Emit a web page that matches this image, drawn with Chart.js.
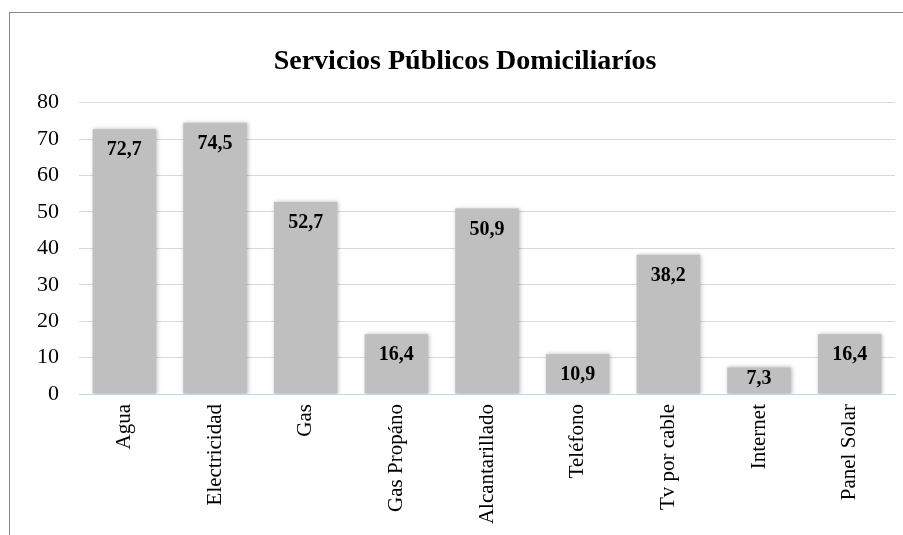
<!DOCTYPE html>
<html>
<head>
<meta charset="utf-8">
<script src="https://cdn.jsdelivr.net/npm/chart.js@4"></script>
<style>
  html, body { margin: 0; padding: 0; background: #fff; overflow: hidden; }
  #wrap { position: relative; width: 903px; height: 535px; }
  #marco { position: absolute; left: 9px; top: 12px; width: 1000px; height: 1000px; border: 1px solid #8a8a8a; box-sizing: border-box; }
  canvas { position: absolute; left: 0; top: 0; }
</style>
</head>
<body>
<div id="wrap">
  <div id="marco"></div>
  <canvas id="grafico" width="903" height="535"></canvas>
</div>
<script>
const categorias = ['Agua', 'Electricidad', 'Gas', 'Gas Propáno', 'Alcantarillado', 'Teléfono', 'Tv por cable', 'Internet', 'Panel Solar']
const valores    = [72.7, 74.5, 52.7, 16.4, 50.9, 10.9, 38.2, 7.3, 16.4]
const titulo     = 'Servicios Públicos Domiciliaríos'

const FUENTE = "'Liberation Serif', 'Times New Roman', serif"

// etiquetas de valor dentro de la barra, arriba (sin pasar del eje)
const etiquetas = {
  id: 'etiquetas',
  afterDatasetsDraw(chart) {
    const ctx = chart.ctx
    const meta = chart.getDatasetMeta(0)
    ctx.save()
    ctx.font = `bold 20px ${FUENTE}`
    ctx.fillStyle = '#000'
    ctx.textAlign = 'center'
    ctx.textBaseline = 'middle'
    meta.data.forEach((bar, i) => {
      const txt = valores[i].toFixed(1).replace('.', ',')
      const y = Math.min(bar.y + 21, bar.base - 15)
      ctx.fillText(txt, bar.x, y)
    })
    ctx.restore()
  }
}

// sombra suave de las barras
const sombra = {
  id: 'sombra',
  beforeDatasetsDraw(chart) {
    const ctx = chart.ctx
    ctx.save()
    ctx.shadowColor = 'rgba(0,0,0,0.28)'
    ctx.shadowBlur = 4
    ctx.shadowOffsetX = 1
    ctx.shadowOffsetY = 0
  },
  afterDatasetsDraw(chart) {
    chart.ctx.restore()
  }
}

new Chart(document.getElementById('grafico'), {
  type: 'bar',
  data: {
    labels: categorias,
    datasets: [{
      data: valores,
      backgroundColor: '#bfbfbf',
      borderWidth: 0,
      categoryPercentage: 0.7,
      barPercentage: 1,
    }],
  },
  options: {
    responsive: false,
    animation: false,
    layout: { padding: { left: 35, right: 8, top: 0, bottom: 0 } },
    plugins: {
      legend: { display: false },
      tooltip: { enabled: false },
      title: {
        display: true,
        text: titulo,
        color: '#000',
        font: { family: FUENTE, size: 28, weight: 'bold' },
        padding: { top: 45, bottom: 24 },
      },
    },
    scales: {
      x: {
        grid: { display: false, drawTicks: false },
        border: { display: true, color: '#c3d5ec', width: 1 },
        ticks: {
          color: '#000',
          font: { family: FUENTE, size: 21 },
          minRotation: 90,
          maxRotation: 90,
          padding: 10,
        },
        afterFit: scale => { scale.height = 141 },
      },
      y: {
        min: 0,
        max: 80,
        grid: { color: '#d9d9d9', drawTicks: false },
        border: { display: false },
        ticks: {
          stepSize: 10,
          color: '#000',
          font: { family: FUENTE, size: 22 },
          padding: 20,
        },
        afterFit: scale => { scale.width = 44 },
      },
    },
  },
  plugins: [sombra, etiquetas],
})
</script>
</body>
</html>
